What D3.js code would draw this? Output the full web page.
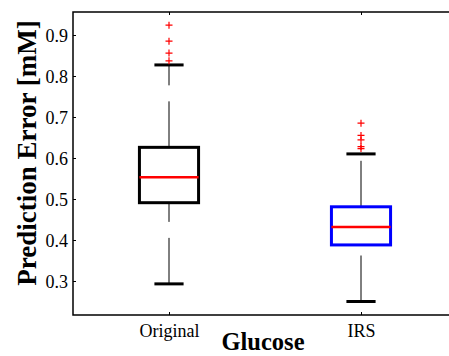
<!DOCTYPE html>
<html>
<head>
    <meta charset="utf-8">
    <title>Glucose prediction error boxplot</title>
    <script src="https://d3js.org/d3.v7.min.js"></script>
    <style>
        body { margin: 0; background: #fff; }
        text { font-family: "Liberation Serif", "Times New Roman", serif; }
    </style>
</head>
<body>
    <div id="chart"></div>

    <script>
        // Data
        var groups = ["Original", "IRS"];
        var lowerWhisker = [0.293, 0.250];
        var q1 = [0.491, 0.388];
        var median = [0.553, 0.432];
        var q3 = [0.626, 0.481];
        var upperWhisker = [0.827, 0.610];
        var outliers = [
            [0.924, 0.885, 0.856, 0.837],
            [0.685, 0.655, 0.644, 0.628, 0.623]
        ];
        var boxColors = ["#000000", "#0000ff"];
        var yTicks = [0.3, 0.4, 0.5, 0.6, 0.7, 0.8, 0.9];

        var W = 449, H = 356;
        var padLeft = 73, padTop = 12, padBottom = 315;

        var svg = d3.select("#chart")
            .append("svg")
            .attr("width", W)
            .attr("height", H);

        // positions 1 and 2 on a [0.5, 2.5] axis, right edge falls outside the picture
        var x = d3.scaleLinear()
            .domain([0.5, 2.5])
            .range([padLeft, 457]);
        var y = d3.scaleLinear()
            .domain([0.2171, 0.9561])
            .range([padBottom, padTop]);

        var boxHalf = 0.154, capHalf = 0.076;

        // Axes (inward ticks)
        var yAxis = svg.append("g")
            .attr("transform", "translate(" + padLeft + ",0)")
            .call(d3.axisRight(y).tickValues(yTicks).tickSize(3).tickFormat(d3.format(".1f")));
        yAxis.select(".domain").remove();
        yAxis.selectAll("text")
            .attr("x", -5)
            .attr("text-anchor", "end")
            .attr("dy", "0.34em")
            .style("font-size", "18px");

        var xAxis = svg.append("g")
            .attr("transform", "translate(0," + padBottom + ")")
            .call(d3.axisTop(x).tickValues([1, 2]).tickSize(3).tickFormat(function (d) { return groups[d - 1]; }));
        xAxis.select(".domain").remove();
        xAxis.selectAll("text")
            .attr("y", 22)
            .attr("dy", 0)
            .style("font-size", "18px");

        svg.append("g")
            .attr("transform", "translate(0," + padTop + ")")
            .call(d3.axisBottom(x).tickValues([1, 2]).tickSize(3).tickFormat(""))
            .select(".domain").remove();

        // Frame: left, top, bottom
        svg.append("path")
            .attr("d", "M" + W + "," + padTop + "H" + padLeft + "V" + padBottom + "H" + W)
            .attr("fill", "none")
            .attr("stroke", "#000")
            .attr("stroke-width", 1.5);

        var idx = d3.range(groups.length);
        var g = svg.append("g");

        // Whiskers (dashed), drawn from lower value upward
        g.selectAll(".wup")
            .data(idx)
            .enter().append("line")
            .attr("x1", function (i) { return x(i + 1); })
            .attr("x2", function (i) { return x(i + 1); })
            .attr("y1", function (i) { return y(q3[i]); })
            .attr("y2", function (i) { return y(upperWhisker[i]); })
            .attr("stroke", "#000")
            .attr("stroke-width", 1)
            .attr("stroke-dasharray", "46,16");
        g.selectAll(".wlo")
            .data(idx)
            .enter().append("line")
            .attr("x1", function (i) { return x(i + 1); })
            .attr("x2", function (i) { return x(i + 1); })
            .attr("y1", function (i) { return y(lowerWhisker[i]); })
            .attr("y2", function (i) { return y(q1[i]); })
            .attr("stroke", "#000")
            .attr("stroke-width", 1)
            .attr("stroke-dasharray", "46,16");

        // Whisker caps
        [upperWhisker, lowerWhisker].forEach(function (arr) {
            g.selectAll(null)
                .data(idx)
                .enter().append("line")
                .attr("x1", function (i) { return x(i + 1 - capHalf); })
                .attr("x2", function (i) { return x(i + 1 + capHalf); })
                .attr("y1", function (i) { return y(arr[i]); })
                .attr("y2", function (i) { return y(arr[i]); })
                .attr("stroke", "#000")
                .attr("stroke-width", 3);
        });

        // Boxes
        g.selectAll(".box")
            .data(idx)
            .enter().append("rect")
            .attr("x", function (i) { return x(i + 1 - boxHalf); })
            .attr("width", function (i) { return x(i + 1 + boxHalf) - x(i + 1 - boxHalf); })
            .attr("y", function (i) { return y(q3[i]); })
            .attr("height", function (i) { return y(q1[i]) - y(q3[i]); })
            .attr("fill", "none")
            .attr("stroke", function (i) { return boxColors[i]; })
            .attr("stroke-width", 3);

        // Medians
        g.selectAll(".med")
            .data(idx)
            .enter().append("line")
            .attr("x1", function (i) { return x(i + 1 - boxHalf); })
            .attr("x2", function (i) { return x(i + 1 + boxHalf); })
            .attr("y1", function (i) { return y(median[i]); })
            .attr("y2", function (i) { return y(median[i]); })
            .attr("stroke", "#ff0000")
            .attr("stroke-width", 2.5);

        // Outliers as red plus signs
        var pts = [];
        outliers.forEach(function (arr, i) {
            arr.forEach(function (v) { pts.push({ pos: i + 1, v: v }); });
        });
        g.selectAll(".out")
            .data(pts)
            .enter().append("path")
            .attr("transform", function (d) { return "translate(" + x(d.pos) + "," + y(d.v) + ")"; })
            .attr("d", "M-3.5,0H3.5M0,-3.5V3.5")
            .attr("fill", "none")
            .attr("stroke", "#ff0000")
            .attr("stroke-width", 1.2);

        // Axis titles
        svg.append("text")
            .attr("transform", "translate(36,153) rotate(-90)")
            .attr("text-anchor", "middle")
            .style("font-size", "27px")
            .style("font-weight", "bold")
            .text("Prediction Error [mM]");

        svg.append("text")
            .attr("x", 263)
            .attr("y", 350)
            .attr("text-anchor", "middle")
            .style("font-size", "24.5px")
            .style("font-weight", "bold")
            .text("Glucose");
    </script>
</body>
</html>
